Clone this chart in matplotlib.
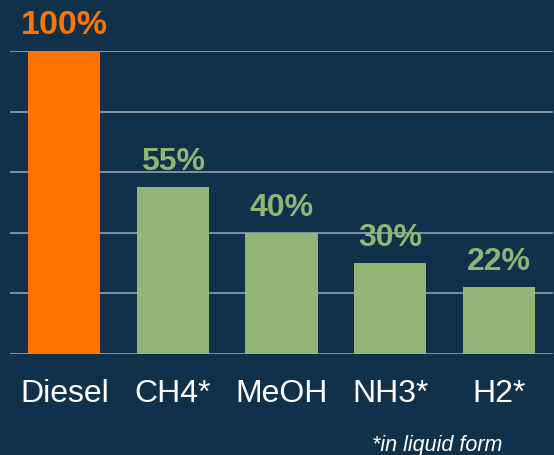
import matplotlib.pyplot as plt

plt.rcParams['font.family'] = ['Liberation Sans', 'DejaVu Sans']

# fuel energy density relative to diesel
fuels = ['Diesel', 'CH4*', 'MeOH', 'NH3*', 'H2*']
share = [100, 55, 40, 30, 22]
colors = ['#FF7300', '#92B475', '#92B475', '#92B475', '#92B475']
label_sizes = [24.5, 23, 23, 23, 23]
bg = '#11314B'

W, H = 554, 456
fig = plt.figure(figsize=(W / 100, H / 100), dpi=100, facecolor=bg)
ax = fig.add_axes([10 / W, (H - 355) / H, 543 / W, 303 / H])
ax.set_facecolor(bg)

x = range(len(fuels))
for yv in range(0, 101, 20):
    ax.axhline(yv, color='#8A97A4', lw=1.3, zorder=1)
ax.bar(x, share, width=0.665, color=colors, zorder=2)

for i, v in enumerate(share):
    ax.annotate(f'{v}%', (i, v), xytext=(0, 8), textcoords='offset points',
                ha='center', va='bottom', fontsize=label_sizes[i],
                fontweight='bold', color=colors[i], annotation_clip=False)

ax.set_xlim(-0.5, 4.5)
ax.set_ylim(0, 100)
ax.set_yticks([])
ax.set_xticks(list(x))
ax.set_xticklabels(fuels, fontsize=23, color='white')
ax.tick_params(axis='x', length=0, pad=17)
for s in ax.spines.values():
    s.set_visible(False)

fig.text(437 / W, 1 - 446 / H, '*in liquid form', ha='center', va='center',
         fontsize=15.5, style='italic', color='white')

fig.savefig('out.png', dpi=100, facecolor=bg)
